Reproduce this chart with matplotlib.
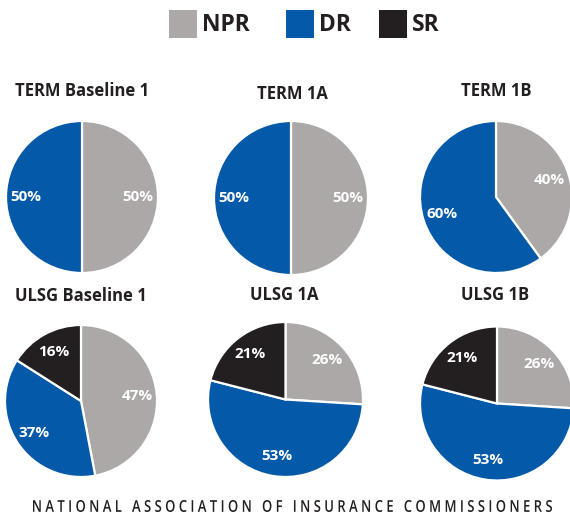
import matplotlib
matplotlib.use("Agg")
import matplotlib.pyplot as plt
from matplotlib.patches import Rectangle, PathPatch
from matplotlib.textpath import TextPath
from matplotlib.font_manager import FontProperties
from matplotlib.transforms import Affine2D

W, H = 570, 514
DPI = 100

categories = ["NPR", "DR", "SR"]
colors = ["#ABA8A7", "#0459A8", "#231F20"]

titles = ["TERM Baseline 1", "TERM 1A", "TERM 1B",
          "ULSG Baseline 1", "ULSG 1A", "ULSG 1B"]
npr = [50, 50, 40, 47, 26, 26]
dr = [50, 50, 60, 37, 53, 53]
sr = [0, 0, 0, 16, 21, 21]

footer = "NATIONAL ASSOCIATION OF INSURANCE COMMISSIONERS"

# layout (pixels): pie centres, radii, title positions
centres = [(82, 197), (291, 198), (496, 197), (81, 401), (285.5, 399.5), (497, 403.5)]
radii = [76, 77, 76, 76, 77.5, 77]
title_pos = [(82, 91), (292, 94), (496, 91), (81, 296), (284, 295), (495, 295)]

plt.rcParams['font.family'] = ['Open Sans', 'DejaVu Sans']

fig = plt.figure(figsize=(W / DPI, H / DPI), dpi=DPI)
fig.patch.set_facecolor("white")


def fx(x):
    return x / W


def fy(y):
    return 1 - y / H


for i, title in enumerate(titles):
    cx, cy = centres[i]
    r = radii[i]
    ax = fig.add_axes([fx(cx - r), fy(cy + r), 2 * r / W, 2 * r / H])
    vals, cols = [], []
    for v, c in zip([npr[i], dr[i], sr[i]], colors):
        if v > 0:
            vals.append(v)
            cols.append(c)
    wedges, texts, autotexts = ax.pie(
        vals, colors=cols, startangle=90, counterclock=False,
        autopct=lambda p: f"{p:.0f}%", pctdistance=0.74, radius=1,
        wedgeprops=dict(edgecolor="white", linewidth=1.6),
        textprops=dict(color="white", fontsize=11, fontweight="bold"))
    ax.set_xlim(-1.0, 1.0)
    ax.set_ylim(-1.0, 1.0)
    ax.set_aspect("auto")
    ax.axis("off")
    tx, ty = title_pos[i]
    fig.text(fx(tx), fy(ty), title, ha="center", va="center",
             fontsize=12, fontweight="bold", color="#231F20")

# legend
leg_sq_x = [169, 286, 379]
for x0, c, lab in zip(leg_sq_x, colors, categories):
    fig.patches.append(Rectangle((fx(x0), fy(38)), 28 / W, 28 / H,
                                 transform=fig.transFigure, facecolor=c,
                                 edgecolor="none"))
    fig.text(fx(x0 + 33), fy(25), lab, ha="left", va="center",
             fontsize=16.5, fontweight="bold", color="#231F20")

# footer: letter-spaced, condensed (scaled text path)
words = footer.split(" ")
spaced = "   ".join(" ".join(w) for w in words)
tp = TextPath((0, 0), spaced, size=20,
              prop=FontProperties(family="Open Sans", weight="semibold"))
ext = tp.get_extents()
x_left, x_right = 33, 552
cap_px = 12
sx = (x_right - x_left) / ext.width
sy = cap_px / ext.height
bg = fig.add_axes([0, 0, 1, 1], zorder=-1)
bg.set_xlim(0, W)
bg.set_ylim(0, H)
bg.axis("off")
trans = Affine2D().translate(-ext.x0, -ext.y0).scale(sx, sy).translate(
    x_left, H - 512) + bg.transData
bg.add_patch(PathPatch(tp, facecolor="#231F20", edgecolor="none",
                       transform=trans))

fig.savefig("out.png", dpi=DPI, facecolor="white")
